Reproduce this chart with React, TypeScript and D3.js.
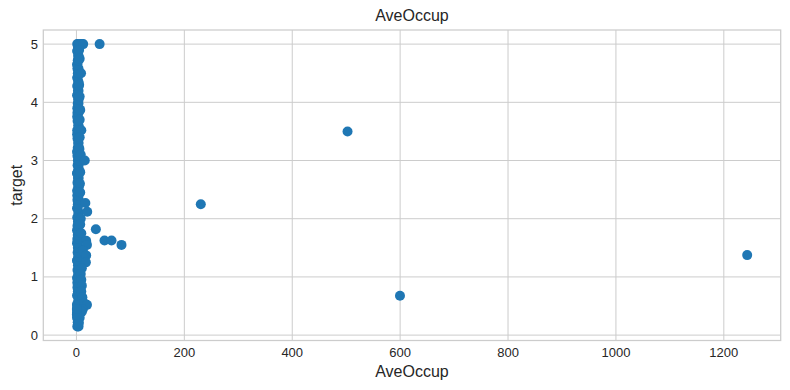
import React from "react";
import * as d3 from "d3";

const title = "AveOccup";
const xLabel = "AveOccup";
const yLabel = "target";
const xTicks = [0, 200, 400, 600, 800, 1000, 1200];
const yTicks = [0, 1, 2, 3, 4, 5];

// dense core column of points (AveOccup, target)
const coreX = [1.6, 2.4, 3.2, 1.9, 2.8, 1.4, 3.5, 2.1, 2.6, 1.8];
const coreY = [
  0.15, 0.22, 0.3, 0.38, 0.45, 0.52, 0.6, 0.68, 0.75, 0.82, 0.9, 0.98, 1.05,
  1.12, 1.2, 1.28, 1.35, 1.42, 1.5, 1.58, 1.65, 1.72, 1.8, 1.88, 1.95, 2.02,
  2.1, 2.18, 2.25, 2.32, 2.4, 2.48, 2.55, 2.62, 2.7, 2.78, 2.85, 2.92, 3.0,
  3.08, 3.15, 3.22, 3.3, 3.38, 3.45, 3.52, 3.6, 3.68, 3.75, 3.82, 3.9, 3.98,
  4.05, 4.12, 4.2, 4.28, 4.35, 4.42, 4.5, 4.58, 4.65, 4.72, 4.8, 4.88, 4.95,
  5.0,
];
const coreX2 = [
  3.9, 4.2, 1.1, 0.9, 0.8, 1.0, 4.4, 1.2, 4.6, 4.1, 4.8, 1.1, 4.3,
  4.9, 4.5, 1.2, 4.0, 4.7, 4.4, 1.3, 4.6, 4.2, 1.1, 4.3, 4.5, 4.1,
  4.4, 1.2, 4.6, 4.3, 4.0, 1.3, 4.5, 4.2, 4.1, 1.2, 4.4, 4.0, 4.3,
  4.1, 1.4, 4.2, 3.9, 4.0, 1.3, 4.1, 3.8, 4.0, 1.4, 3.9, 4.0, 3.8,
  4.1, 1.4, 3.9, 4.0, 3.7, 1.5, 4.0, 3.8, 1.4, 3.9, 4.0, 1.5, 3.8,
  4.2,
];

// right-edge points of the column
const edgeX = [
  4, 6, 8, 10, 12.5, 5, 6, 8.5, 5, 6, 7, 6, 9, 6, 5.5, 8, 15.5, 7, 6.5, 7,
  16.5, 20, 8, 7, 9, 18, 19.5, 12, 18, 17.5, 10, 8, 9, 10, 9, 11, 14, 19.5, 12,
  10, 6, 4, 0.8, 0.9,
];
const edgeY = [
  5.0, 5.0, 5.0, 5.0, 5.0, 4.9, 4.75, 4.5, 4.3, 4.1, 3.87, 3.7, 3.52, 3.4, 3.2,
  3.1, 3.0, 2.8, 2.6, 2.45, 2.27, 2.12, 2.0, 1.9, 1.75, 1.62, 1.55, 1.45, 1.37,
  1.25, 1.15, 1.05, 0.95, 0.85, 0.75, 0.65, 0.55, 0.52, 0.45, 0.4, 0.3, 0.2,
  0.35, 0.45,
];

// isolated outliers
const outX = [43, 36, 52, 65, 83.5, 230.5, 502.5, 599.7, 1243.3];
const outY = [5.0, 1.82, 1.625, 1.625, 1.55, 2.25, 3.5, 0.675, 1.375];

const W = 790;
const H = 390;
const left = 43.3;
const right = 780.7;
const top = 30;
const bottom = 340.5;

export default function App() {
  const points: [number, number][] = [];
  coreY.forEach((y, i) => {
    points.push([coreX[i % coreX.length], y]);
    points.push([coreX2[i], y]);
  });
  edgeX.forEach((x, i) => points.push([x, edgeY[i]]));
  outX.forEach((x, i) => points.push([x, outY[i]]));

  const allX = points.map((p) => p[0]);
  const allY = points.map((p) => p[1]);
  const xMin = 0.69;
  const xMax = d3.max(allX) as number;
  const yMin = d3.min(allY) as number;
  const yMax = 5.00001;
  const xm = (xMax - xMin) * 0.05;
  const ym = (yMax - yMin) * 0.05;

  const x = d3.scaleLinear().domain([xMin - xm, xMax + xm]).range([left, right]);
  const y = d3.scaleLinear().domain([yMin - ym, yMax + ym]).range([bottom, top]);

  const grid = "#cccccc";
  const textColor = "#262626";
  const font = "Arial, 'Liberation Sans', sans-serif";

  return (
    <svg
      width={W}
      height={H}
      style={{ position: "absolute", left: 0, top: 0, background: "#fff" }}
      fontFamily={font}
    >
      <rect x={0} y={0} width={W} height={H} fill="#fff" />
      {xTicks.map((t) => (
        <line key={"gx" + t} x1={x(t)} x2={x(t)} y1={top} y2={bottom} stroke={grid} strokeWidth={1} />
      ))}
      {yTicks.map((t) => (
        <line key={"gy" + t} x1={left} x2={right} y1={y(t)} y2={y(t)} stroke={grid} strokeWidth={1} />
      ))}
      <rect x={left} y={top} width={right - left} height={bottom - top} fill="none" stroke={grid} strokeWidth={1.25} />
      {points.map((p, i) => (
        <circle key={i} cx={x(p[0])} cy={y(p[1])} r={5} fill="#1f77b4" />
      ))}
      {xTicks.map((t) => (
        <text key={"tx" + t} x={x(t)} y={357} textAnchor="middle" fontSize={13} fill={textColor}>
          {t}
        </text>
      ))}
      {yTicks.map((t) => (
        <text key={"ty" + t} x={38} y={y(t) + 4.5} textAnchor="end" fontSize={13} fill={textColor}>
          {t}
        </text>
      ))}
      <text x={(left + right) / 2} y={21} textAnchor="middle" fontSize={16} fill="#262626">
        {title}
      </text>
      <text x={(left + right) / 2} y={377} textAnchor="middle" fontSize={16} fill={textColor}>
        {xLabel}
      </text>
      <text
        transform={`translate(22, ${(top + bottom) / 2}) rotate(-90)`}
        textAnchor="middle"
        fontSize={16}
        fill={textColor}
      >
        {yLabel}
      </text>
    </svg>
  );
}
